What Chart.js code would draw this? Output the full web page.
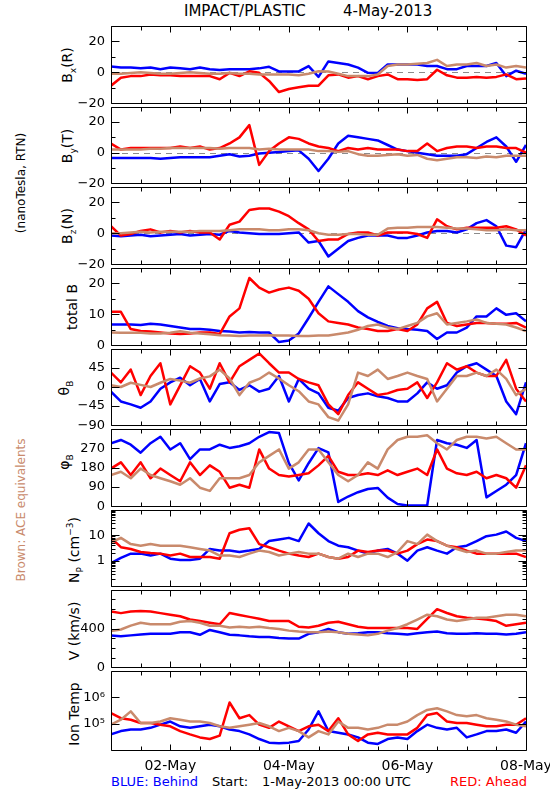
<!DOCTYPE html>
<html lang="en">
<head>
<meta charset="UTF-8">
<title>IMPACT/PLASTIC 4-May-2013</title>
<script src="https://cdn.jsdelivr.net/npm/chart.js"></script>
<style>
  html, body { margin: 0; padding: 0; background: #fff; }
  body { position: relative; width: 550px; height: 800px; overflow: hidden; font-family: "DejaVu Sans", sans-serif; color: #000; }
  .t { position: absolute; white-space: pre; line-height: 1; }
  .r { transform: translate(-50%, -50%) rotate(-90deg); }
  sub, sup { font-size: 9px; line-height: 0; }
  canvas { position: absolute; left: 0; }
</style>
</head>
<body>
<div class="t" style="left:184px;top:4px;font-size:15px">IMPACT/PLASTIC</div>
<div class="t" style="left:343px;top:4px;font-size:15px">4-May-2013</div>

<div class="t r" style="left:21px;top:183px;font-size:12px">(nanoTesla, RTN)</div>
<div class="t r" style="left:21px;top:510px;font-size:12px;color:#c98a6c">Brown: ACE equivalents</div>

<div class="t r" style="left:67px;top:65px;font-size:14px">B<sub>x</sub>(R)</div>
<div class="t r" style="left:67px;top:146px;font-size:14px">B<sub>y</sub>(T)</div>
<div class="t r" style="left:67px;top:226px;font-size:14px">B<sub>z</sub>(N)</div>
<div class="t r" style="left:72px;top:307px;font-size:14px">total B</div>
<div class="t r" style="left:64px;top:388px;font-size:14px">θ<sub>B</sub></div>
<div class="t r" style="left:64px;top:462px;font-size:14px">φ<sub>B</sub></div>
<div class="t r" style="left:74px;top:550px;font-size:14px">N<sub>P</sub> (cm<sup>−3</sup>)</div>
<div class="t r" style="left:74px;top:631px;font-size:14px">V (km/s)</div>
<div class="t r" style="left:74px;top:714px;font-size:14px">Ion Temp</div>

<div class="t" style="left:111px;top:775px;font-size:13px;color:#0000ff">BLUE: Behind</div>
<div class="t" style="left:212px;top:775px;font-size:13px">Start:</div>
<div class="t" style="left:262px;top:775px;font-size:13px">1-May-2013 00:00 UTC</div>
<div class="t" style="left:450px;top:775px;font-size:13px;color:#ff0000">RED: Ahead</div>

<script>
// hours since 1-May-2013 00:00 UTC
const hours = [0, 4, 8, 12, 16, 20, 24, 28, 32, 36, 40, 44, 48, 52, 56, 60, 64, 68, 72, 76, 80, 84,
  88, 92, 96, 100, 104, 108, 112, 116, 120, 124, 128, 132, 136, 140, 144, 148, 152, 156, 160, 164, 168];
const xTicks = [0, 12, 24, 36, 48, 60, 72, 84, 96, 108, 120, 132, 144, 156, 168];
const xLabels = {24: '02-May', 72: '04-May', 120: '06-May', 168: '08-May'};

// Bx (R), nT
const bxBehind = [3.7, 3, 3, 2.5, 3, 2, 3, 2.5, 2, 3, 2, 1.5, 2, 2, 2, 2.5, 3.5, 0.5, 0.5, 0.5, 4, -3,
  7, 6, 5, 3, -0.4, -0.5, 5, 5, 5, 5, 4, 4, 2, 2, 4, 4, 4, 6, -2.5, 1, -1];
const bxAhead = [-8.7, -3.5, -2.5, -2.5, -1.5, -2, -2, -2.5, -2.5, -2.5, -2.5, -4.5, -0.4, -2.5, 0.6, -0.4, -5.6, -12.8, -10.8, -9.7, -8.7, -8.7,
  -2, -1.4, -3.5, -2.5, -4.5, -2.5, -1.4, -4.5, -4.5, -5, -4.5, 1.6, -2, -3.5, -3.5, -3, -3.5, -3, -1.4, -4.5, -4];
const bxAce = [-1, -1, -0.5, 0, -0.5, -1, -1, -0.5, 0, -0.5, -1, -1, -0.5, -1, -1, -1.5, -1.5, -1.5, -1.5, -2, -1, 0.6,
  0.5, -1, -2.5, -2.5, -2.5, -1.5, 4, 5, 5, 5.5, 6, 8, 4, 5, 5, 6, 4, 5, 3, 4, 3];

// By (T), nT
const byBehind = [-3.5, -3.5, -3.5, -3.5, -3.5, -4, -3.5, -3, -3, -3, -3, -2, -1, -2.5, -2, -0.6, 0, 0.4, 1, 1.5, -4, -12,
  -4, 6, 11, 10, 9, 8, 5, 2, 1, 0, -1, -2, -2, -2, -1, 3, 7, 10, 4, -6, 5];
const byAhead = [6, 2, 3, 3, 3, 3, 3, 4, 3, 4, 2, 3, 6, 10, 18, -8, 1, 6, 10, 9, 6, 4,
  3, 1, 3, 2, 3, 2, 2, 2, 1, 1, 6, 1, 3, 4, 4, 3, 4, 4, 3, 3, 0];
const byAce = [2, 2, 2, 2, 2.5, 2.5, 3, 3, 3, 3, 3, 2.5, 3, 3, 3, 2, 2.5, 2, 2, 2, 2, 1,
  1, 0.5, 1, -1, -2, -2, -1.5, -1, -2, -1.5, -4, -5, -4, -3, -3, -3.5, -2.5, -3, -2, -2, -2];

// Bz (N), nT
const bzBehind = [-1.5, -2, -1.5, -1, -2, -1.5, -1, -0.5, -1.5, -1, -0.5, -1, 1.5, 0.5, 0, -0.5, -0.5, -0.5, 0, 0.5, -6, -5,
  -15, -10, -5, -3, -1.5, -1.5, -1.5, -3, -3, -1.5, 0.5, 1.5, 1.5, 0.5, 2.5, 6.5, 8.5, 4.5, -8, -9, 2.5];
const bzAhead = [4.5, -1.5, -0.5, 1.5, 2.5, 0.5, 1.5, 0.5, 1.5, 0.5, 0.5, -4, 5.5, 7.5, 15, 16, 16, 14, 11, 6.5, 2.5, -5,
  -4, -4, -0.5, 0.5, 0.5, -1.5, 0.5, 0.5, 0.5, -0.5, -3, 9, 4.5, 2.5, 3.5, 3.5, 3.5, 3.5, 4.5, 2.5, -1.5];
const bzAce = [0, 0, 0.5, 1, 0.5, 1, 1, 1, 1, 1.5, 1.5, 1.5, 2, 2.5, 2.5, 2.5, 2, 2, 2.5, 2.5, 2, 0,
  -1, -1, -0.5, -0.5, -1, -1, 3, 3.5, 3.5, 4, 4, 4, 3.5, 3, 3, 2.5, 2, 2, 2.5, 2, 2];

// total B, nT
const btBehind = [6.7, 6.7, 6.7, 6.5, 6.9, 6.7, 6.2, 5.7, 5.2, 5.2, 5, 4.6, 4.4, 4.1, 4.3, 4.1, 4.1, 1, 1.5, 3.8, 8.8, 14,
  19, 16.5, 14, 11, 9, 7.5, 6.2, 5.5, 5.2, 5, 4.6, 2, 4.1, 4.1, 5.7, 9.3, 9.3, 11.9, 9.8, 10.3, 7.7];
const btAhead = [10.8, 10.8, 5.2, 4.6, 4.4, 4.1, 3.8, 3.6, 3.8, 4.1, 4.1, 3.6, 9.3, 11.9, 21.7, 18.6, 17, 18, 18.6, 17.6, 15, 10.3,
  7.7, 7.2, 6.7, 5.7, 5.2, 4.6, 4.6, 5.2, 4.6, 6.7, 11.9, 14, 7.2, 6.2, 6.7, 7.2, 7.2, 6.9, 6.9, 7.2, 5.7];
const btAce = [4.1, 4, 4, 4, 3.8, 3.8, 4, 4.5, 4, 3.8, 3.5, 3.2, 3.1, 3, 3.1, 3.1, 3.2, 3.1, 3.1, 3, 3, 3.1,
  3.1, 3.6, 4.1, 5, 6.2, 6.7, 5.7, 5.2, 6.2, 7.2, 9.3, 10.3, 6.7, 7.2, 7.7, 8.3, 7.2, 6.9, 6.7, 5.7, 4.6];

// theta_B, degrees
const thBehind = [-11, -34, -41, -49, -34, -4, 11, 22, 4, 19, -34, 7, 11, -7, 4, -11, -4, 26, -34, 19, -4, -15,
  -49, -56, -26, -19, -15, -22, -26, -34, -34, -15, 11, -4, 4, 34, 49, 56, 41, 26, -34, -64, 11];
const thAhead = [34, 11, 41, -19, 26, 56, -41, 4, 49, 34, -4, 56, 11, 49, 64, 79, 56, 34, 34, 19, 11, 4,
  -41, -64, -19, 11, -4, -19, -15, -7, -4, 11, -26, 11, 56, 41, 49, 34, 26, 26, 64, -4, -34];
const thAce = [4, 0, 10, 5, 0, 10, 19, 15, 10, 20, 25, 41, 20, -19, 10, 19, 34, 20, 4, -10, -34, -41,
  -71, -79, -41, 34, 26, 41, 19, 26, 34, 26, 19, -34, -4, 26, 26, 34, 26, 41, 19, -19, -4];

// phi_B, degrees
const phBehind = [293, 308, 286, 249, 293, 323, 264, 293, 219, 264, 264, 286, 271, 279, 293, 323, 345, 340, 200, 120, 200, 270,
  250, 20, 45, 65, 80, 85, 40, 10, 3, 3, 3, 308, 293, 286, 271, 308, 41, 71, 100, 145, 293];
const phAhead = [175, 204, 145, 204, 130, 175, 145, 116, 204, 145, 190, 160, 86, 100, 86, 264, 175, 145, 138, 145, 153, 190,
  234, 160, 145, 145, 153, 145, 167, 145, 160, 175, 145, 264, 175, 153, 145, 160, 130, 145, 130, 86, 190];
const phAce = [145, 160, 130, 175, 145, 130, 116, 100, 130, 86, 71, 130, 130, 130, 145, 204, 234, 264, 175, 204, 264, 264,
  204, 145, 116, 145, 204, 175, 264, 308, 323, 323, 330, 293, 264, 308, 323, 323, 315, 323, 293, 264, 264];

// proton density, cm^-3
const npBehind = [0.8, 1.3, 1.9, 1.9, 1.6, 1.9, 1.2, 1.07, 1.07, 1.2, 2.9, 2.5, 2.5, 2.2, 2.5, 2.9, 5.9, 6.8, 7.9, 5.9, 29, 12,
  5.9, 3.9, 3.4, 2.5, 1.9, 2.5, 2.9, 1.9, 1.0, 2.5, 3.4, 2.5, 1.9, 3.4, 3.9, 5.9, 9.2, 10.6, 14, 7.9, 5.9];
const npAhead = [7.9, 3.4, 2.9, 2.2, 2.0, 1.9, 1.6, 1.9, 1.4, 1.4, 1.4, 1.2, 12, 16.5, 18.8, 4.5, 3.4, 2.5, 1.9, 1.6, 1.4, 1.9,
  1.4, 1.2, 1.4, 2.5, 2.2, 2.5, 2.5, 1.9, 2.5, 4.5, 6.8, 5.9, 3.9, 3.4, 2.5, 1.9, 1.9, 1.9, 1.9, 1.9, 1.4];
const npAce = [5.2, 7.9, 4.5, 3.9, 4.5, 3.9, 3.9, 3.9, 3.4, 2.9, 2.5, 1.6, 1.6, 1.4, 1.9, 2.5, 2.2, 1.6, 1.9, 2.2, 1.9, 1.9,
  1.4, 1.2, 1.9, 1.4, 1.9, 1.9, 1.4, 2.2, 5.9, 4.5, 10.6, 5.9, 3.9, 2.9, 2.2, 2.5, 1.9, 1.9, 2.2, 2.5, 2.5];

// bulk speed, km/s
const vBehind = [329, 319, 329, 339, 345, 345, 345, 362, 362, 335, 385, 362, 335, 329, 319, 313, 313, 303, 296, 296, 345, 362,
  395, 362, 345, 352, 362, 362, 352, 345, 339, 352, 362, 368, 352, 345, 345, 352, 345, 345, 339, 345, 362];
const vAhead = [576, 559, 576, 582, 576, 559, 543, 526, 493, 477, 460, 444, 560, 540, 520, 500, 477, 477, 477, 418, 411, 428,
  460, 470, 444, 418, 405, 405, 405, 405, 405, 395, 500, 600, 560, 526, 510, 503, 493, 477, 428, 444, 460];
const vAce = [375, 390, 430, 460, 444, 444, 444, 470, 477, 460, 428, 428, 411, 418, 411, 418, 405, 395, 378, 368, 362, 362,
  368, 362, 345, 339, 329, 345, 378, 405, 444, 493, 543, 526, 493, 477, 493, 510, 510, 526, 543, 543, 526];

// ion temperature, K
const tBehind = [3.9e4, 5.2e4, 6.0e4, 6.0e4, 6.9e4, 9.1e4, 1.2e5, 7.9e4, 6.9e4, 7.9e4, 9.1e4, 7.9e4, 6.0e4, 5.2e4, 3.9e4, 2.6e4,
  1.9e4, 1.8e4, 1.9e4, 2.2e4, 6.0e4, 2.9e5, 5.2e4, 4.5e4, 3.9e4, 3.0e4, 1.9e4, 1.7e4, 2.6e4, 3.0e4, 2.6e4, 5.2e4,
  9.1e4, 6.9e4, 6.0e4, 6.9e4, 3.0e4, 3.9e4, 5.2e4, 5.2e4, 6.0e4, 4.5e4, 1.2e5];
const tAhead = [2.5e5, 1.6e5, 1.4e5, 1.05e5, 1.05e5, 9.1e4, 7.9e4, 5.2e4, 3.9e4, 3.0e4, 2.6e4, 3.5e4, 6.3e5, 1.6e5, 2.1e5, 9.1e4,
  6.9e4, 1.2e5, 7.9e4, 5.2e4, 7.9e4, 9.1e4, 5.2e4, 1.6e5, 3.9e4, 2.2e4, 3.9e4, 4.5e4, 3.9e4, 3.9e4, 3.9e4, 6.9e4,
  2.1e5, 2.5e5, 1.2e5, 1.05e5, 1.05e5, 9.1e4, 7.9e4, 7.9e4, 9.1e4, 9.1e4, 1.6e5];
const tAce = [9.1e4, 1.4e5, 2.9e5, 1.05e5, 1.05e5, 1.2e5, 1.6e5, 1.4e5, 1.2e5, 1.2e5, 1.05e5, 7.9e4, 6.9e4, 7.9e4, 9.1e4, 1.05e5,
  7.9e4, 5.2e4, 6.9e4, 5.2e4, 3.0e4, 5.2e4, 3.9e4, 1.2e5, 6.9e4, 6.9e4, 6.0e4, 6.9e4, 9.1e4, 9.1e4, 1.2e5, 2.1e5,
  3.3e5, 3.8e5, 2.9e5, 2.1e5, 1.9e5, 2.1e5, 1.6e5, 1.4e5, 1.2e5, 9.1e4, 7.9e4];

// axis ticks for each panel
const bTicks = [-20, -10, 0, 10, 20, 30];
const bLabels = {'-20': '−20', '0': '0', '20': '20'};
const btTicks = [0, 5, 10, 15, 20, 25];
const btLabels = {'0': '0', '10': '10', '20': '20'};
const thTicks = [-90, -45, 0, 45, 90];
const thLabels = {'-90': '−90', '-45': '−45', '0': '0', '45': '45'};
const phTicks = [0, 90, 180, 270, 360];
const phLabels = {'0': '0', '90': '90', '180': '180', '270': '270'};
const npTicks = [0.1, 0.2, 0.3, 0.4, 0.5, 0.6, 0.7, 0.8, 0.9, 1, 2, 3, 4, 5, 6, 7, 8, 9, 10, 20, 30, 40, 50, 60, 70, 80, 90, 100];
const npLabels = {'1': '1', '10': '10'};
const vTicks = [0, 100, 200, 300, 400, 500, 600, 700, 800];
const vLabels = {'0': '0', '400': '400'};
const tTicks = [1e5, 1e6];
const tLabels = {'100000': '10⁵', '1000000': '10⁶'};

const AHEAD = '#ff0000', BEHIND = '#0000ff', ACE = '#c98a6c';
const FONT = '"DejaVu Sans", sans-serif';

const panels = [
  {min: -20, max: 30, ticks: bTicks, labels: bLabels, zero: true, ace: bxAce, ahead: bxAhead, behind: bxBehind},
  {min: -20, max: 30, ticks: bTicks, labels: bLabels, zero: true, ace: byAce, ahead: byAhead, behind: byBehind},
  {min: -20, max: 30, ticks: bTicks, labels: bLabels, zero: true, ace: bzAce, ahead: bzAhead, behind: bzBehind},
  {min: 0, max: 25, ticks: btTicks, labels: btLabels, ace: btAce, ahead: btAhead, behind: btBehind},
  {min: -90, max: 90, ticks: thTicks, labels: thLabels, ace: thAce, ahead: thAhead, behind: thBehind},
  {min: 0, max: 360, ticks: phTicks, labels: phLabels, ace: phAce, ahead: phAhead, behind: phBehind},
  {min: 0.1, max: 100, log: true, ticks: npTicks, labels: npLabels, ace: npAce, ahead: npAhead, behind: npBehind},
  {min: 0, max: 800, ticks: vTicks, labels: vLabels, ace: vAce, ahead: vAhead, behind: vBehind},
  {min: 1e4, max: 1e7, log: true, ticks: tTicks, labels: tLabels, ace: tAce, ahead: tAhead, behind: tBehind}
];

// page rows where the panel frames sit
const edges = [24, 105, 185, 266, 347, 427, 508, 588, 669, 750];

function pts(arr) {
  return hours.map((h, i) => ({x: h, y: arr[i]}));
}

// zero line, inward ticks and box, drawn the IDL way
function frame(p) {
  return {
    id: 'frame',
    beforeDatasetsDraw(chart) {
      if (!p.zero) return;
      const {ctx, chartArea: a, scales: {y}} = chart;
      const yy = Math.round(y.getPixelForValue(0)) + 0.5;
      ctx.save();
      ctx.strokeStyle = '#8c8c8c';
      ctx.lineWidth = 1;
      ctx.setLineDash([6, 5]);
      ctx.beginPath();
      ctx.moveTo(a.left, yy);
      ctx.lineTo(a.right, yy);
      ctx.stroke();
      ctx.restore();
    },
    afterDraw(chart) {
      const ctx = chart.ctx, a = chart.chartArea, x = chart.scales.x, y = chart.scales.y;
      const L = Math.round(a.left) + 0.5, R = Math.round(a.right) + 0.5;
      const T = Math.round(a.top) + 0.5, B = Math.round(a.bottom) + 0.5;
      ctx.save();
      ctx.setLineDash([]);
      ctx.strokeStyle = '#000';
      ctx.lineWidth = 1;
      ctx.beginPath();
      p.ticks.forEach(v => {
        const py = Math.round(y.getPixelForValue(v)) + 0.5;
        const len = p.labels[String(v)] ? 8 : 4;
        ctx.moveTo(L, py); ctx.lineTo(L + len, py);
        ctx.moveTo(R, py); ctx.lineTo(R - len, py);
      });
      xTicks.forEach(h => {
        const xx = Math.round(x.getPixelForValue(h)) + 0.5;
        const len = xLabels[h] ? 6 : 4;
        ctx.moveTo(xx, T); ctx.lineTo(xx, T + len);
        ctx.moveTo(xx, B); ctx.lineTo(xx, B - len);
      });
      ctx.moveTo(L, T); ctx.lineTo(R, T); ctx.lineTo(R, B); ctx.lineTo(L, B); ctx.closePath();
      ctx.stroke();
      ctx.restore();
    }
  };
}

panels.forEach((p, i) => {
  const last = i === panels.length - 1;
  const top = edges[i], h = edges[i + 1] - edges[i];
  const padT = 12, padB = last ? 40 : 12;
  const cv = document.createElement('canvas');
  cv.width = 600;
  cv.height = h + padT + padB;
  cv.style.top = (top - padT) + 'px';
  document.body.appendChild(cv);

  new Chart(cv, {
    type: 'line',
    data: {
      datasets: [
        {data: pts(p.ace), borderColor: ACE, borderWidth: 2.5},
        {data: pts(p.ahead), borderColor: AHEAD, borderWidth: 2.5},
        {data: pts(p.behind), borderColor: BEHIND, borderWidth: 2.5}
      ]
    },
    options: {
      responsive: false,
      animation: false,
      layout: {padding: {left: 0, right: 74, top: padT, bottom: last ? 0 : padB}},
      elements: {point: {radius: 0}, line: {tension: 0, borderJoinStyle: 'round'}},
      plugins: {legend: {display: false}, tooltip: {enabled: false}},
      scales: {
        x: {
          type: 'linear',
          min: 0,
          max: 168,
          display: last,
          afterBuildTicks: s => { s.ticks = xTicks.map(v => ({value: v})); },
          afterFit: s => { if (last) s.height = 40; },
          grid: {display: false, drawTicks: false},
          border: {display: false},
          ticks: {
            autoSkip: false,
            maxRotation: 0,
            padding: 8,
            color: '#000',
            font: {family: FONT, size: 14},
            callback: v => xLabels[v] || ''
          }
        },
        y: {
          type: p.log ? 'logarithmic' : 'linear',
          min: p.min,
          max: p.max,
          afterBuildTicks: s => { s.ticks = p.ticks.map(v => ({value: v})); },
          afterFit: s => { s.width = 111; },
          grid: {display: false, drawTicks: false},
          border: {display: false},
          ticks: {
            autoSkip: false,
            padding: 6,
            color: '#000',
            font: {family: FONT, size: 13},
            callback: v => p.labels[String(v)] || ''
          }
        }
      }
    },
    plugins: [frame(p)]
  });
});
</script>
</body>
</html>
